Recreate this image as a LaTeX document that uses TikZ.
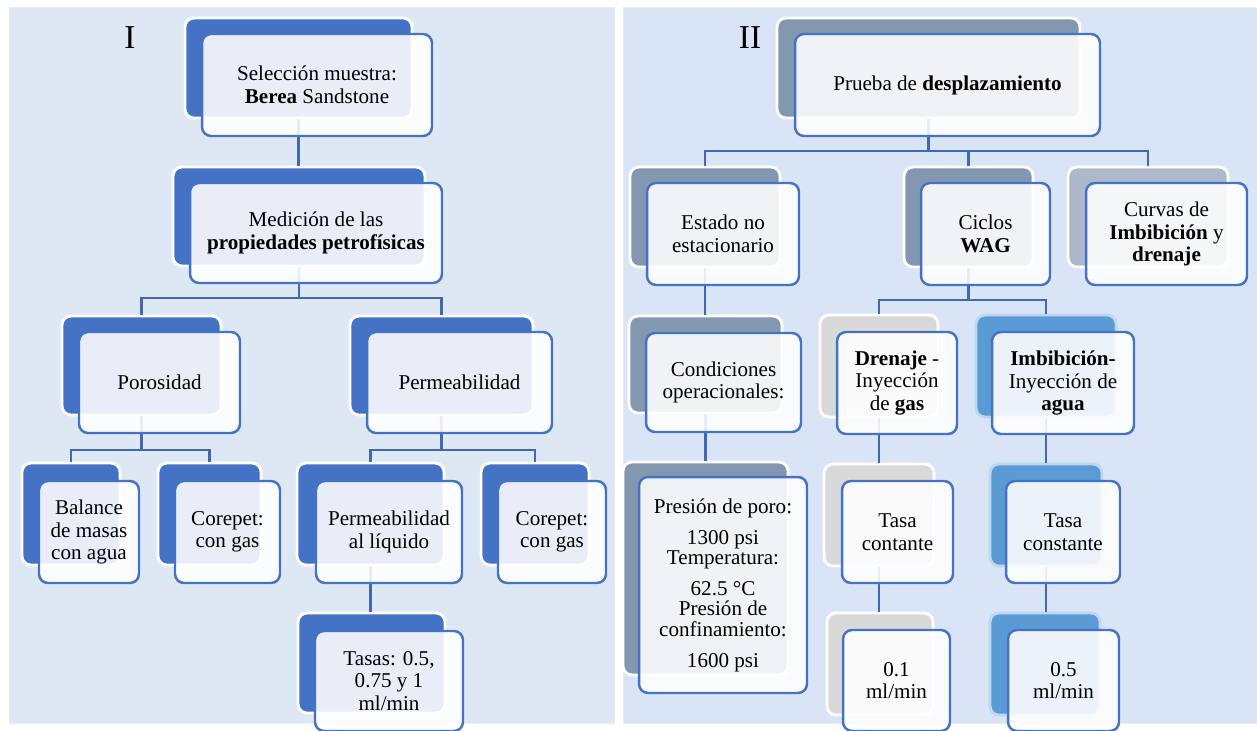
\documentclass[tikz,border=0pt]{standalone}
\usepackage{fontspec}
\setmainfont{Liberation Serif}

\definecolor{azul}{HTML}{4472C4}
\definecolor{azullinea}{HTML}{3F68B5}
\definecolor{azulmed}{HTML}{5B9BD5}
\definecolor{azulclaro}{HTML}{BDD7EE}
\definecolor{grisazul}{HTML}{8497B0}
\definecolor{grisazulclaro}{HTML}{ADB9CA}
\definecolor{gris}{HTML}{D9D9D9}
\definecolor{fondoI}{HTML}{DEE8F4}
\definecolor{fondoII}{HTML}{DAE4F7}

\begin{document}
\begin{tikzpicture}[x=0.02cm, y=-0.02cm,
	panel/.style={draw=black!8, line width=0.5pt},
	backbox/.style={draw=white, line width=1.6pt, rounded corners=0.18cm, inner sep=0pt},
	frontbox/.style={draw=azul, line width=1.4pt, fill=white, fill opacity=0.88, text opacity=1,
		rounded corners=0.18cm, inner sep=0pt, align=center, font=\fontsize{12}{12.8}\selectfont},
	conector/.style={draw=azullinea, line width=1.5pt}]
	\useasboundingbox (0,0) rectangle (1257,730);
	
	%%% Фон
	\filldraw[panel, fill=fondoI] (9,7) rectangle (614,723);
	\filldraw[panel, fill=fondoII] (623,7) rectangle (1257,723);
	
	\node (numI) at (130,38) {\fontsize{19}{20}\selectfont I};
	\node (numII) at (750,38) {\fontsize{19}{20}\selectfont II};
	
	%%% Задние блоки
	
	% Первая панель
	\node[backbox, fill=azul, minimum width=4.54cm, minimum height=2cm] (selB) at (298.5,68) {};
	\node[backbox, fill=azul, minimum width=5.04cm, minimum height=1.98cm] (medB) at (299,216.5) {};
	\node[backbox, fill=azul, minimum width=3.18cm, minimum height=1.98cm] (porB) at (141.5,365.5) {};
	\node[backbox, fill=azul, minimum width=3.66cm, minimum height=1.98cm] (perB) at (441.5,365.5) {};
	\node[backbox, fill=azul, minimum width=1.96cm, minimum height=2.04cm] (balB) at (71,514) {};
	\node[backbox, fill=azul, minimum width=2.06cm, minimum height=2.04cm] (corLB) at (209.5,514) {};
	\node[backbox, fill=azul, minimum width=2.94cm, minimum height=2.04cm] (liqB) at (370.5,514) {};
	\node[backbox, fill=azul, minimum width=2.16cm, minimum height=2.04cm] (corRB) at (535,514) {};
	\node[backbox, fill=azul, minimum width=2.94cm, minimum height=2cm] (tasB) at (371.5,663) {};
	
	% Вторая панель
	\node[backbox, fill=grisazul, minimum width=6.06cm, minimum height=2cm] (pruB) at (928.5,68) {};
	\node[backbox, fill=grisazul, minimum width=3cm, minimum height=2cm] (estB) at (705,217) {};
	\node[backbox, fill=grisazul, minimum width=2.58cm, minimum height=2cm] (cicB) at (968.5,217) {};
	\node[backbox, fill=grisazulclaro, minimum width=3.2cm, minimum height=2cm] (curB) at (1148,217) {};
	\node[backbox, fill=grisazul, minimum width=3.06cm, minimum height=1.94cm] (conB) at (705.5,364.5) {};
	\node[backbox, fill=grisazul, minimum width=3.3cm, minimum height=4.26cm] (preB) at (705.5,568.5) {};
	\node[backbox, fill=gris, minimum width=2.36cm, minimum height=2.04cm] (dreB) at (879,366) {};
	\node[backbox, fill=azulmed, draw=azulclaro, minimum width=2.8cm, minimum height=2.04cm] (imbB) at (1046,366) {};
	\node[backbox, fill=gris, minimum width=2.2cm, minimum height=2.04cm] (tcnB) at (879,515) {};
	\node[backbox, fill=azulmed, draw=azulclaro, minimum width=2.24cm, minimum height=2.04cm] (tcsB) at (1046,515) {};
	\node[backbox, fill=gris, minimum width=2.12cm, minimum height=2.04cm] (q01B) at (880,664) {};
	\node[backbox, fill=azulmed, draw=azulclaro, minimum width=2.2cm, minimum height=2.04cm] (q05B) at (1045,664) {};
	
	%%% Соединения
	
	% Первая панель
	\coordinate (busA) at (299,298);
	\coordinate (busB) at (141.5,450);
	\coordinate (busC) at (441.5,450);
	\draw[conector] (selB.south) -- (selB.south |- medB.north);
	\draw[conector] (medB.south) -- (busA);
	\draw[conector] (porB.north) |- (busA) -| (perB.north);
	\draw[conector] (porB.south) -- (busB);
	\draw[conector] (balB.north) |- (busB) -| (corLB.north);
	\draw[conector] (perB.south) -- (busC);
	\draw[conector] (liqB.north) |- (busC) -| (corRB.north);
	\draw[conector] (liqB.south) -- (liqB.south |- tasB.north);
	
	% Вторая панель
	\coordinate (busD) at (928.5,151);
	\coordinate (busE) at (968.5,300);
	\draw[conector] (pruB.south) -- (busD);
	\draw[conector] (estB.north) |- (busD) -| (curB.north);
	\draw[conector] (cicB.north) -- (cicB.north |- busD);
	\draw[conector] (estB.south) -- (estB.south |- conB.north);
	\draw[conector] (conB.south) -- (conB.south |- preB.north);
	\draw[conector] (cicB.south) -- (busE);
	\draw[conector] (dreB.north) |- (busE) -| (imbB.north);
	\draw[conector] (dreB.south) -- (dreB.south |- tcnB.north);
	\draw[conector] (tcnB.south) -- (tcnB.south |- q01B.north);
	\draw[conector] (imbB.south) -- (imbB.south |- tcsB.north);
	\draw[conector] (tcsB.south) -- (tcsB.south |- q05B.north);
	
	%%% Передние блоки с подписями
	
	% Первая панель
	\node[frontbox, minimum width=4.6cm, minimum height=2.04cm] (sel) at (317,85) {Selección muestra:\\\textbf{Berea} Sandstone};
	\node[frontbox, minimum width=5.04cm, minimum height=2cm] (med) at (316,233) {Medición de las\\\textbf{propiedades petrofísicas}};
	\node[frontbox, minimum width=3.22cm, minimum height=2.02cm] (por) at (159.5,382.5) {Porosidad};
	\node[frontbox, minimum width=3.7cm, minimum height=2.02cm] (per) at (459.5,382.5) {Permeabilidad};
	\node[frontbox, minimum width=2cm, minimum height=2.04cm] (bal) at (89,532) {Balance\\de masas\\con agua};
	\node[frontbox, minimum width=2.1cm, minimum height=2.04cm] (corL) at (227.5,532) {Corepet:\\con gas};
	\node[frontbox, minimum width=2.92cm, minimum height=2.04cm] (liq) at (389,532) {Permeabilidad\\al líquido};
	\node[frontbox, minimum width=2.16cm, minimum height=2.04cm] (corR) at (552,532) {Corepet:\\con gas};
	\node[frontbox, minimum width=2.96cm, minimum height=2cm] (tas) at (389,681) {Tasas: 0.5,\\0.75 y 1\\ml/min};
	
	% Вторая панель
	\node[frontbox, minimum width=6.1cm, minimum height=2.04cm] (pru) at (947.5,85) {Prueba de \textbf{desplazamiento}};
	\node[frontbox, minimum width=3.04cm, minimum height=2.04cm] (est) at (723,234) {Estado no\\estacionario};
	\node[frontbox, minimum width=2.58cm, minimum height=2.04cm] (cic) at (985.5,234) {Ciclos\\\textbf{WAG}};
	\node[frontbox, minimum width=3.22cm, minimum height=2.04cm] (cur) at (1166.5,234) {Curvas de\\\textbf{Imbibición} y\\\textbf{drenaje}};
	\node[frontbox, minimum width=3.1cm, minimum height=1.98cm] (con) at (723.5,382.5) {Condiciones\\operacionales:};
	\node[frontbox, minimum width=3.36cm, minimum height=4.32cm, font=\fontsize{12}{11.6}\selectfont] (pre) at (723,585)
		{Presión de poro:\\[6pt]1300 psi\\Temperatura:\\[6pt]62.5 °C\\Presión de\\confinamiento:\\[6pt]1600 psi};
	\node[frontbox, minimum width=2.4cm, minimum height=2.04cm] (dre) at (897,383) {\textbf{Drenaje} -\\Inyección\\de \textbf{gas}};
	\node[frontbox, minimum width=2.84cm, minimum height=2.04cm] (imb) at (1063,383) {\textbf{Imbibición-}\\Inyección de\\\textbf{agua}};
	\node[frontbox, minimum width=2.22cm, minimum height=2.04cm] (tcn) at (897.5,532) {Tasa\\contante};
	\node[frontbox, minimum width=2.28cm, minimum height=2.04cm] (tcs) at (1063,532) {Tasa\\constante};
	\node[frontbox, minimum width=2.14cm, minimum height=2.02cm] (q01) at (896.5,680.5) {0.1\\ml/min};
	\node[frontbox, minimum width=2.22cm, minimum height=2.02cm] (q05) at (1063.5,680.5) {0.5\\ml/min};
\end{tikzpicture}
\end{document}
